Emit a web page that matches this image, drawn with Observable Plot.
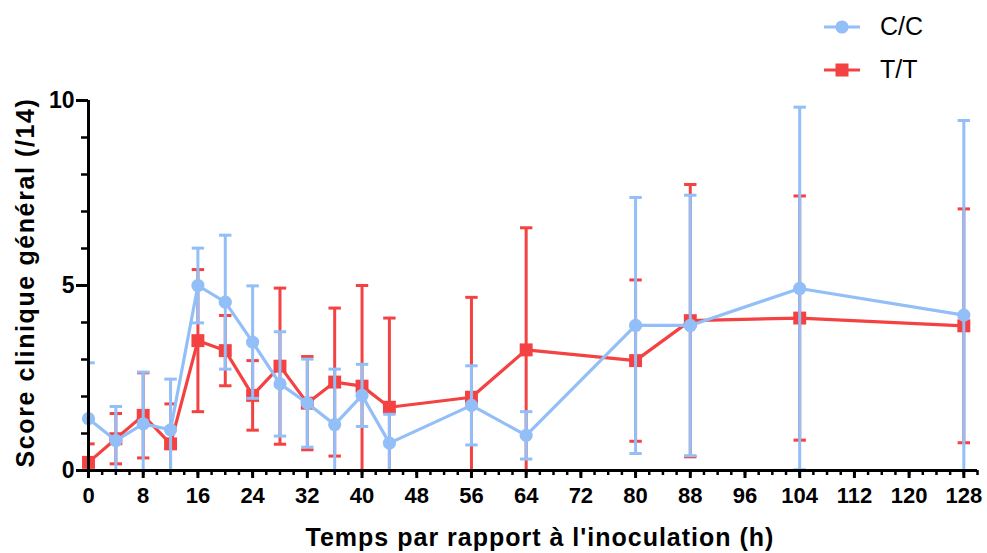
<!DOCTYPE html>
<html><head><meta charset="utf-8">
<script src="https://cdn.jsdelivr.net/npm/d3@7"></script>
<script src="https://cdn.jsdelivr.net/npm/@observablehq/plot@0.6"></script>
<style>
body{margin:0;background:#fff;}
#wrap{position:relative;width:987px;height:553px;overflow:hidden;}
#chart svg text{font-weight:bold;}
.legend{position:absolute;left:824px;top:5px;font-family:"Liberation Sans",Arial,sans-serif;font-size:25px;color:#000;}
.item{display:flex;align-items:center;height:43px;}
.item svg{margin-right:19px;}
</style></head><body>
<div id="wrap"><div id="chart"></div><div class="legend" id="legend"></div></div>
<script>
// ---- data ----
const times = [0, 4, 8, 12, 16, 20, 24, 28, 32, 36, 40, 44, 56, 64, 80, 88, 104, 128];
const ccMean = [1.40, 0.81, 1.26, 1.10, 5.00, 4.55, 3.47, 2.34, 1.82, 1.24, 2.03, 0.74, 1.76, 0.95, 3.92, 3.92, 4.92, 4.20];
const ccSD   = [1.51, 0.92, 1.40, 1.37, 1.01, 1.81, 1.52, 1.41, 1.19, 1.50, 0.84, 0.78, 1.07, 0.64, 3.46, 3.52, 4.90, 5.26];
const ttMean = [0.22, 0.86, 1.49, 0.72, 3.51, 3.24, 2.03, 2.82, 1.82, 2.39, 2.28, 1.71, 1.98, 3.26, 2.97, 4.05, 4.12, 3.91];
const ttSD   = [0.50, 0.68, 1.15, 1.08, 1.92, 0.95, 0.94, 2.11, 1.26, 2.00, 2.72, 2.41, 2.70, 3.30, 2.18, 3.68, 3.30, 3.16];
const seriesNames = ["C/C", "T/T"];
const xTicks = [0, 8, 16, 24, 32, 40, 48, 56, 64, 72, 80, 88, 96, 104, 112, 120, 128];
const yTicks = [0, 5, 10];
const xTitle = "Temps par rapport à l'inoculation (h)";
const yTitle = "Score clinique général (/14)";

const blue = "#92bff7", red = "#f44242";
const font = '"Liberation Sans", Arial, Helvetica, sans-serif';

const series = [
  {name: seriesNames[1], mean: ttMean, sd: ttSD, color: red, symbol: "square", r: 7.3},
  {name: seriesNames[0], mean: ccMean, sd: ccSD, color: blue, symbol: "circle", r: 6.6}
];
const cap = {draw(ctx, size) { const r = Math.sqrt(size / Math.PI); ctx.moveTo(-r, 0); ctx.lineTo(r, 0); }};

const marks = [
  Plot.axisY({ticks: d3.range(0, 11), tickSize: 7, tickFormat: () => "", strokeWidth: 2.5, label: null}),
  Plot.axisY({ticks: yTicks, tickSize: 12, tickPadding: 2, fontSize: 23, strokeWidth: 3, label: null}),
  Plot.axisX({ticks: d3.range(0, 131, 2), tickSize: 5, tickFormat: () => "", strokeWidth: 2.5, label: null}),
  Plot.axisX({ticks: xTicks, tickSize: 8, tickPadding: 9, fontSize: 22, strokeWidth: 3, label: null}),
];
for (const s of series) {
  const rows = times.map((t, i) => ({t, m: s.mean[i], lo: s.mean[i] - s.sd[i], hi: s.mean[i] + s.sd[i]}));
  marks.push(
    Plot.line(rows, {x: "t", y: "m", stroke: s.color, strokeWidth: 3.2}),
    Plot.ruleX(rows, {x: "t", y1: "lo", y2: "hi", stroke: s.color, strokeWidth: 3, clip: true}),
    Plot.dot(rows, {x: "t", y: "hi", symbol: cap, r: 6.2, stroke: s.color, strokeWidth: 3, clip: true}),
    Plot.dot(rows, {x: "t", y: "lo", symbol: cap, r: 6.2, stroke: s.color, strokeWidth: 3, clip: true}),
    Plot.dot(rows, {x: "t", y: "m", symbol: s.symbol, r: s.r, fill: s.color, stroke: "none"})
  );
}
marks.push(
  Plot.ruleY([0], {strokeWidth: 3}),
  Plot.ruleX([0], {strokeWidth: 3}),
  Plot.text([xTitle], {frameAnchor: "bottom", textAnchor: "middle", dy: 75, dx: 7, fontSize: 25, fontWeight: "bold", fill: "black"}),
  Plot.text([yTitle], {frameAnchor: "left", textAnchor: "middle", rotate: -90, dx: -63, dy: -3, fontSize: 25, fontWeight: "bold", fill: "black"})
);

const chart = Plot.plot({
  width: 987, height: 553,
  marginLeft: 88, marginRight: 10, marginTop: 100, marginBottom: 83,
  x: {domain: [0, 130], label: null},
  y: {domain: [0, 10], label: null},
  style: {fontFamily: font, background: "white", color: "black", overflow: "visible"},
  marks
});
d3.select(chart).selectAll("text").each(function() {
  if (this.textContent === xTitle) this.setAttribute("letter-spacing", "1px");
  if (this.textContent === yTitle) this.setAttribute("letter-spacing", "1.6px");
});
document.getElementById("chart").appendChild(chart);

// legend (HTML overlay)
const legend = document.getElementById("legend");
const legendItems = [{name: seriesNames[0], color: blue, shape: "circle"}, {name: seriesNames[1], color: red, shape: "square"}];
for (const it of legendItems) {
  const sym = it.shape === "circle"
    ? `<circle cx="18" cy="10" r="6.6" fill="${it.color}"/>`
    : `<rect x="11.5" y="3.5" width="13" height="13" fill="${it.color}"/>`;
  const div = document.createElement("div");
  div.className = "item";
  div.innerHTML = `<svg width="37" height="20"><line x1="0" x2="36" y1="10" y2="10" stroke="${it.color}" stroke-width="3"/>${sym}</svg><span>${it.name}</span>`;
  legend.appendChild(div);
}
</script>
</body></html>
